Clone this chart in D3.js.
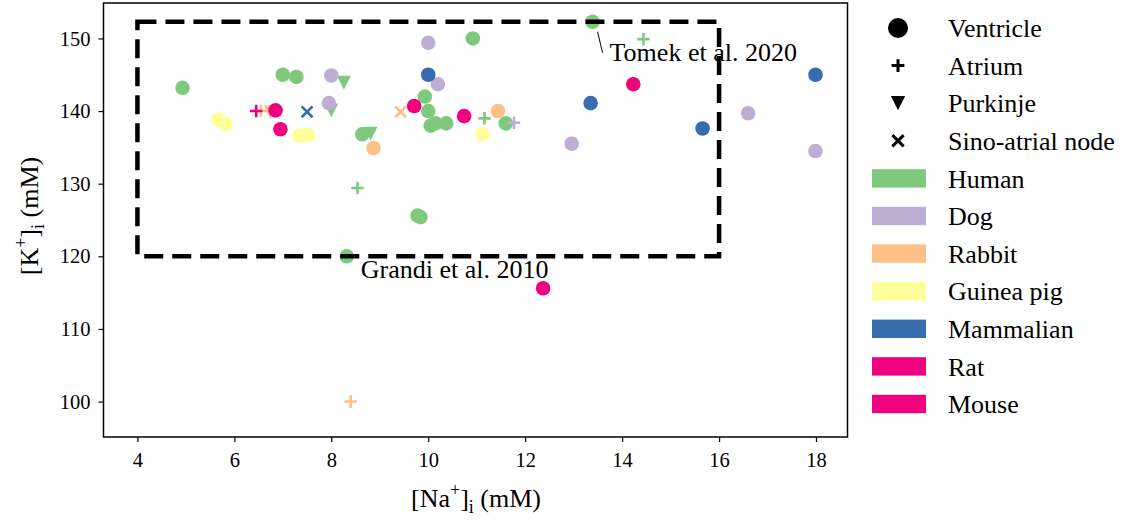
<!DOCTYPE html>
<html>
<head>
<meta charset="utf-8">
<script src="https://cdnjs.cloudflare.com/ajax/libs/d3/7.8.5/d3.min.js"></script>
<style>
  html, body { margin: 0; padding: 0; background: #fff; }
  svg { display: block; font-family: "Liberation Serif", "DejaVu Serif", serif; }
</style>
</head>
<body>
<svg id="chart" width="1126" height="528"></svg>
<script>
// ---------- DATA ----------
const cellTypes = ["Ventricle", "Atrium", "Purkinje", "Sino-atrial node"];
const species = ["Human", "Dog", "Rabbit", "Guinea pig", "Mammalian", "Rat", "Mouse"];

// one entry per model: intracellular Na (mM), K (mM), species, cell type
const naValues = [
  4.93, 7.0, 7.28, 8.64, 9.78, 9.84, 8.32, 9.93, 10.0, 10.05, 10.15, 10.37, 10.92, 11.6, 13.39,
  8.54, 11.16, 14.44,
  8.26, 8.0, 8.81,
  8.0, 7.95, 10.0, 10.2, 12.96, 16.6, 17.99,
  11.77,
  8.87, 11.44,
  6.55, 8.4,
  6.75,
  9.43,
  5.67, 5.82, 7.34, 7.52, 11.12,
  10.0, 13.35, 15.66, 17.99,
  7.5,
  6.85, 6.95, 9.71, 10.74, 12.37,
  6.45,
  14.23
];
const kValues = [
  143.2, 145.0, 144.7, 136.8, 125.6, 125.4, 120.0, 142.0, 140.0, 138.0, 138.3, 138.3, 150.0, 138.3, 152.3,
  129.4, 139.0, 149.9,
  143.9, 140.1, 136.9,
  144.9, 141.1, 149.4, 143.7, 135.5, 139.7, 134.5,
  138.4,
  134.9, 140.0,
  140.0, 100.0,
  139.8,
  139.9,
  138.8, 138.2, 136.6, 136.7, 136.8,
  145.0, 141.1, 137.6, 145.0,
  139.9,
  140.1, 137.5, 140.7, 139.3, 115.6,
  140.0,
  143.7
];
const speciesOf = [
  "Human","Human","Human","Human","Human","Human","Human","Human","Human","Human","Human","Human","Human","Human","Human",
  "Human","Human","Human",
  "Human","Human","Human",
  "Dog","Dog","Dog","Dog","Dog","Dog","Dog",
  "Dog",
  "Rabbit","Rabbit",
  "Rabbit","Rabbit",
  "Rabbit",
  "Rabbit",
  "Guinea pig","Guinea pig","Guinea pig","Guinea pig","Guinea pig",
  "Mammalian","Mammalian","Mammalian","Mammalian",
  "Mammalian",
  "Rat","Rat","Rat","Rat","Rat",
  "Rat",
  "Mouse"
];
const cellOf = [
  "Ventricle","Ventricle","Ventricle","Ventricle","Ventricle","Ventricle","Ventricle","Ventricle","Ventricle","Ventricle","Ventricle","Ventricle","Ventricle","Ventricle","Ventricle",
  "Atrium","Atrium","Atrium",
  "Purkinje","Purkinje","Purkinje",
  "Ventricle","Ventricle","Ventricle","Ventricle","Ventricle","Ventricle","Ventricle",
  "Atrium",
  "Ventricle","Ventricle",
  "Atrium","Atrium",
  "Purkinje",
  "Sino-atrial node",
  "Ventricle","Ventricle","Ventricle","Ventricle","Ventricle",
  "Ventricle","Ventricle","Ventricle","Ventricle",
  "Sino-atrial node",
  "Ventricle","Ventricle","Ventricle","Ventricle","Ventricle",
  "Atrium",
  "Ventricle"
];

// box of "typical" ranges and annotated models
const boxNa = [4, 16];
const boxK = [120, 152.3];
const annotations = [
  { label: "Tomek et al. 2020", na: 13.39, k: 152.3 },
  { label: "Grandi et al. 2010", na: 8.32, k: 120.0 }
];

const xTicks = [4, 6, 8, 10, 12, 14, 16, 18];
const yTicks = [100, 110, 120, 130, 140, 150];

// ---------- STYLE ----------
const speciesColors = ["#7fc97f", "#beaed4", "#fdc086", "#ffff99", "#386cb0", "#f0027f", "#f0027f"];
const color = d3.scaleOrdinal().domain(species).range(speciesColors);

const svg = d3.select("#chart");
const plot = { left: 103.5, right: 847.5, top: 3, bottom: 437 };

const x = d3.scaleLinear().domain([3.3, 18.65]).range([plot.left, plot.right]);
const y = d3.scaleLinear().domain([95.12, 154.88]).range([plot.bottom, plot.top]);

// ---------- AXES ----------
const xAxis = svg.append("g")
  .attr("transform", `translate(0,${plot.bottom})`)
  .call(d3.axisBottom(x).tickValues(xTicks).tickSize(5).tickPadding(10).tickFormat(d3.format("d")));
const yAxis = svg.append("g")
  .attr("transform", `translate(${plot.left},0)`)
  .call(d3.axisLeft(y).tickValues(yTicks).tickSize(5).tickPadding(8).tickFormat(d3.format("d")));
[xAxis, yAxis].forEach(g => {
  g.select(".domain").remove();
  g.selectAll(".tick line").attr("stroke", "#000").attr("stroke-width", 1.2);
  g.selectAll(".tick text").attr("fill", "#000")
    .style("font-family", '"Liberation Serif", serif').style("font-size", "20.5px");
});

// frame
svg.append("rect")
  .attr("x", plot.left).attr("y", plot.top)
  .attr("width", plot.right - plot.left).attr("height", plot.bottom - plot.top)
  .attr("fill", "none").attr("stroke", "#000").attr("stroke-width", 1.5);

// ---------- POINTS ----------
const pts = naValues.map((na, i) => ({ na, k: kValues[i], sp: speciesOf[i], cell: cellOf[i] }));
const R = 7.3;
function drawMarker(g, cell, fill, s, strokeW) {
  if (cell === "Ventricle") {
    g.append("circle").attr("r", s).attr("fill", fill);
  } else if (cell === "Atrium") {
    const h = s * 0.85;
    g.append("path").attr("d", `M${-h},0H${h}M0,${-h}V${h}`)
      .attr("stroke", fill).attr("stroke-width", strokeW).attr("fill", "none");
  } else if (cell === "Purkinje") {
    const w = s * 0.95, hh = s * 0.95;
    g.append("path").attr("d", `M${-w},${-hh}L${w},${-hh}L0,${hh}Z`).attr("fill", fill);
  } else {
    const h = s * 0.75;
    g.append("path").attr("d", `M${-h},${-h}L${h},${h}M${-h},${h}L${h},${-h}`)
      .attr("stroke", fill).attr("stroke-width", strokeW).attr("fill", "none");
  }
}
const ptsG = svg.append("g");
pts.forEach(p => {
  const g = ptsG.append("g").attr("transform", `translate(${x(p.na)},${y(p.k)})`);
  drawMarker(g, p.cell, color(p.sp), R, 2.6);
});

// dashed box
svg.append("rect")
  .attr("x", x(boxNa[0])).attr("y", y(boxK[1]))
  .attr("width", x(boxNa[1]) - x(boxNa[0])).attr("height", y(boxK[0]) - y(boxK[1]))
  .attr("fill", "none").attr("stroke", "#000").attr("stroke-width", 4.5)
  .attr("stroke-dasharray", "19,9");

// annotations
const tom = annotations[0], gra = annotations[1];
svg.append("line")
  .attr("x1", x(tom.na) + 5).attr("y1", y(tom.k) + 10)
  .attr("x2", x(tom.na) + 10).attr("y2", y(tom.k) + 31)
  .attr("stroke", "#000").attr("stroke-width", 1);
svg.append("text").attr("x", x(tom.na) + 17).attr("y", y(tom.k) + 39)
  .style("font-size", "26px").attr("fill", "#000").text(tom.label);
svg.append("text").attr("x", x(gra.na) + 14).attr("y", y(gra.k) + 22)
  .style("font-size", "26px").attr("fill", "#000").text(gra.label);

// axis labels
const xl = svg.append("text").attr("x", 476).attr("y", 507).attr("text-anchor", "middle")
  .style("font-size", "26px").attr("fill", "#000");
xl.append("tspan").text("[Na");
xl.append("tspan").attr("dy", -11).style("font-size", "18px").text("+");
xl.append("tspan").attr("dy", 11).text("]");
xl.append("tspan").attr("dy", 6).style("font-size", "18px").text("i");
xl.append("tspan").attr("dy", -6).text(" (mM)");

const yl = svg.append("text").attr("transform", "translate(38,216) rotate(-90)").attr("text-anchor", "middle")
  .style("font-size", "26px").attr("fill", "#000");
yl.append("tspan").text("[K");
yl.append("tspan").attr("dy", -11).style("font-size", "18px").text("+");
yl.append("tspan").attr("dy", 11).text("]");
yl.append("tspan").attr("dy", 6).style("font-size", "18px").text("i");
yl.append("tspan").attr("dy", -6).text(" (mM)");

// ---------- LEGEND ----------
const leg = svg.append("g");
const rowY = i => 28 + i * 37.6;
cellTypes.forEach((c, i) => {
  const g = leg.append("g").attr("transform", `translate(898,${rowY(i)})`);
  drawMarker(g, c, "#000", c === "Ventricle" ? 10 : 7.5, 3);
  leg.append("text").attr("x", 948).attr("y", rowY(i)).attr("dy", "0.35em")
    .style("font-size", "26px").attr("fill", "#000").text(c);
});
species.forEach((s, j) => {
  const i = j + cellTypes.length;
  leg.append("rect").attr("x", 872).attr("y", rowY(i) - 9.2).attr("width", 54).attr("height", 18.4)
    .attr("fill", color(s));
  leg.append("text").attr("x", 948).attr("y", rowY(i)).attr("dy", "0.35em")
    .style("font-size", "26px").attr("fill", "#000").text(s);
});
</script>
</body>
</html>
